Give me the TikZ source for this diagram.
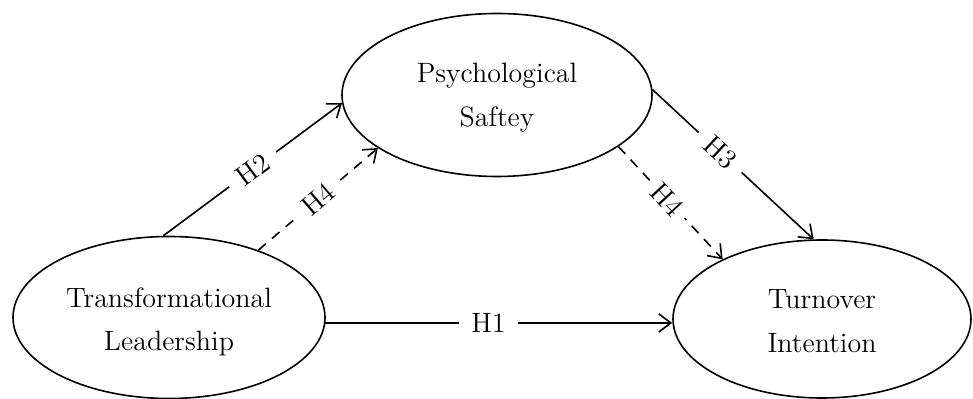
\documentclass[tikz,border=0pt]{standalone}
\usetikzlibrary{arrows.meta,shapes.geometric}
\begin{document}
\begin{tikzpicture}[x=0.5pt,y=-0.5pt,
  construct/.style={draw,ellipse,line width=0.8pt,inner sep=0pt},
  ctext/.style={anchor=base,inner sep=0pt,font=\fontsize{14}{17}\selectfont},
  path/.style={line width=0.8pt,-{Straight Barb[length=6pt,width=9pt,line width=0.8pt]}},
  mediated/.style={path,dash pattern=on 5pt off 4pt},
  hlabel/.style={fill=white,inner xsep=6pt,inner ysep=1pt,font=\fontsize{14}{16}\selectfont}]
\useasboundingbox (0,0) rectangle (973,399);
\node[construct,minimum width=156pt,minimum height=81pt] (tl) at (169,317.5) {};
\node[construct,minimum width=155pt,minimum height=81.5pt] (ps) at (497,95) {};
\node[construct,minimum width=149pt,minimum height=79pt] (to) at (822,319) {};
\node[ctext] (tl1) at (169,308) {Transformational};
\node[ctext] (tl2) at (169,351) {Leadership};
\node[ctext] (ps1) at (497,83) {Psychological};
\node[ctext] (ps2) at (497,127) {Saftey};
\node[ctext] (to1) at (822,309) {Turnover};
\node[ctext] (to2) at (822,353) {Intention};
\draw[path] (tl.-2.4) -- node[hlabel,pos=0.47] {H1} (tl.-2.4 -| to.west);
\draw[path] (tl.94) -- node[hlabel,sloped] {H2} (ps.183);
\draw[mediated] (tl.37.5) -- node[hlabel,sloped,inner xsep=4pt] {H4} (ps.204);
\draw[path] (ps.2) -- node[hlabel,sloped,pos=0.42] {H3} (to.96);
\draw[mediated] (ps.-23.4) -- node[hlabel,sloped,pos=0.47,inner xsep=4pt] {H4} (to.149);
\end{tikzpicture}
\end{document}
